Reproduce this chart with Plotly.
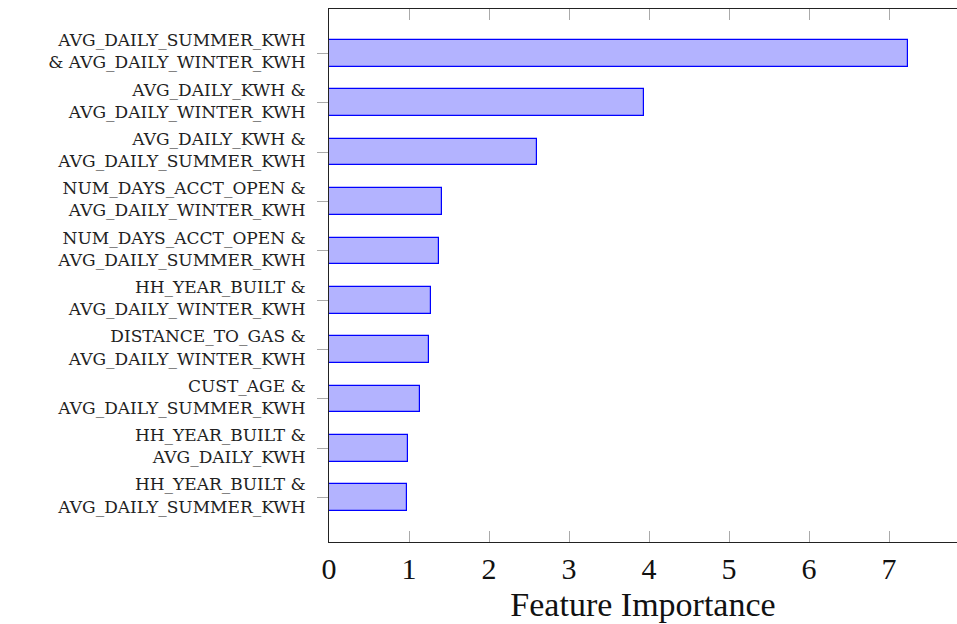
import plotly.graph_objects as go

# Feature-pair interaction importances, listed from top to bottom
pair_labels = [
    "AVG_DAILY_SUMMER_KWH<br>& AVG_DAILY_WINTER_KWH",
    "AVG_DAILY_KWH &<br>AVG_DAILY_WINTER_KWH",
    "AVG_DAILY_KWH &<br>AVG_DAILY_SUMMER_KWH",
    "NUM_DAYS_ACCT_OPEN &<br>AVG_DAILY_WINTER_KWH",
    "NUM_DAYS_ACCT_OPEN &<br>AVG_DAILY_SUMMER_KWH",
    "HH_YEAR_BUILT &<br>AVG_DAILY_WINTER_KWH",
    "DISTANCE_TO_GAS &<br>AVG_DAILY_WINTER_KWH",
    "CUST_AGE &<br>AVG_DAILY_SUMMER_KWH",
    "HH_YEAR_BUILT &<br>AVG_DAILY_KWH",
    "HH_YEAR_BUILT &<br>AVG_DAILY_SUMMER_KWH",
]
importance = [7.24, 3.94, 2.60, 1.41, 1.37, 1.27, 1.25, 1.14, 0.99, 0.98]
x_ticks = [0, 1, 2, 3, 4, 5, 6, 7]

serif = "Liberation Serif, Times New Roman, serif"
label_font = "DejaVu Serif, serif"

fig = go.Figure(
    go.Bar(
        x=importance,
        y=pair_labels,
        orientation="h",
        width=0.54,
        marker=dict(color="#b3b3ff", line=dict(color="#0000ff", width=1.2)),
    )
)

fig.update_layout(
    width=957,
    height=624,
    margin=dict(l=329, r=0, t=9, b=82),
    paper_bgcolor="white",
    plot_bgcolor="white",
    showlegend=False,
    bargap=0,
)

fig.update_xaxes(
    range=[0, 7.85],
    tickvals=x_ticks,
    ticktext=[str(v) for v in x_ticks],
    ticks="inside",
    ticklen=11,
    tickwidth=1,
    tickcolor="#aaaaaa",
    showline=True,
    linecolor="#222222",
    linewidth=1,
    mirror="ticks",
    showgrid=False,
    zeroline=False,
    tickfont=dict(family=serif, size=30, color="#111111"),
    title=dict(text="Feature Importance", font=dict(family=serif, size=34, color="#111111"), standoff=8),
)

fig.update_yaxes(
    type="category",
    categoryorder="array",
    categoryarray=pair_labels,
    range=[9.9, -0.9],
    ticks="outside",
    ticklen=11,
    tickwidth=1,
    tickcolor="#aaaaaa",
    showline=True,
    linecolor="#222222",
    linewidth=1,
    mirror=False,
    showgrid=False,
    zeroline=False,
    ticklabelstandoff=8,
    ticklabelshift=2,
    tickfont=dict(family=label_font, size=17, color="#222222"),
)

fig.write_html("out.html")
